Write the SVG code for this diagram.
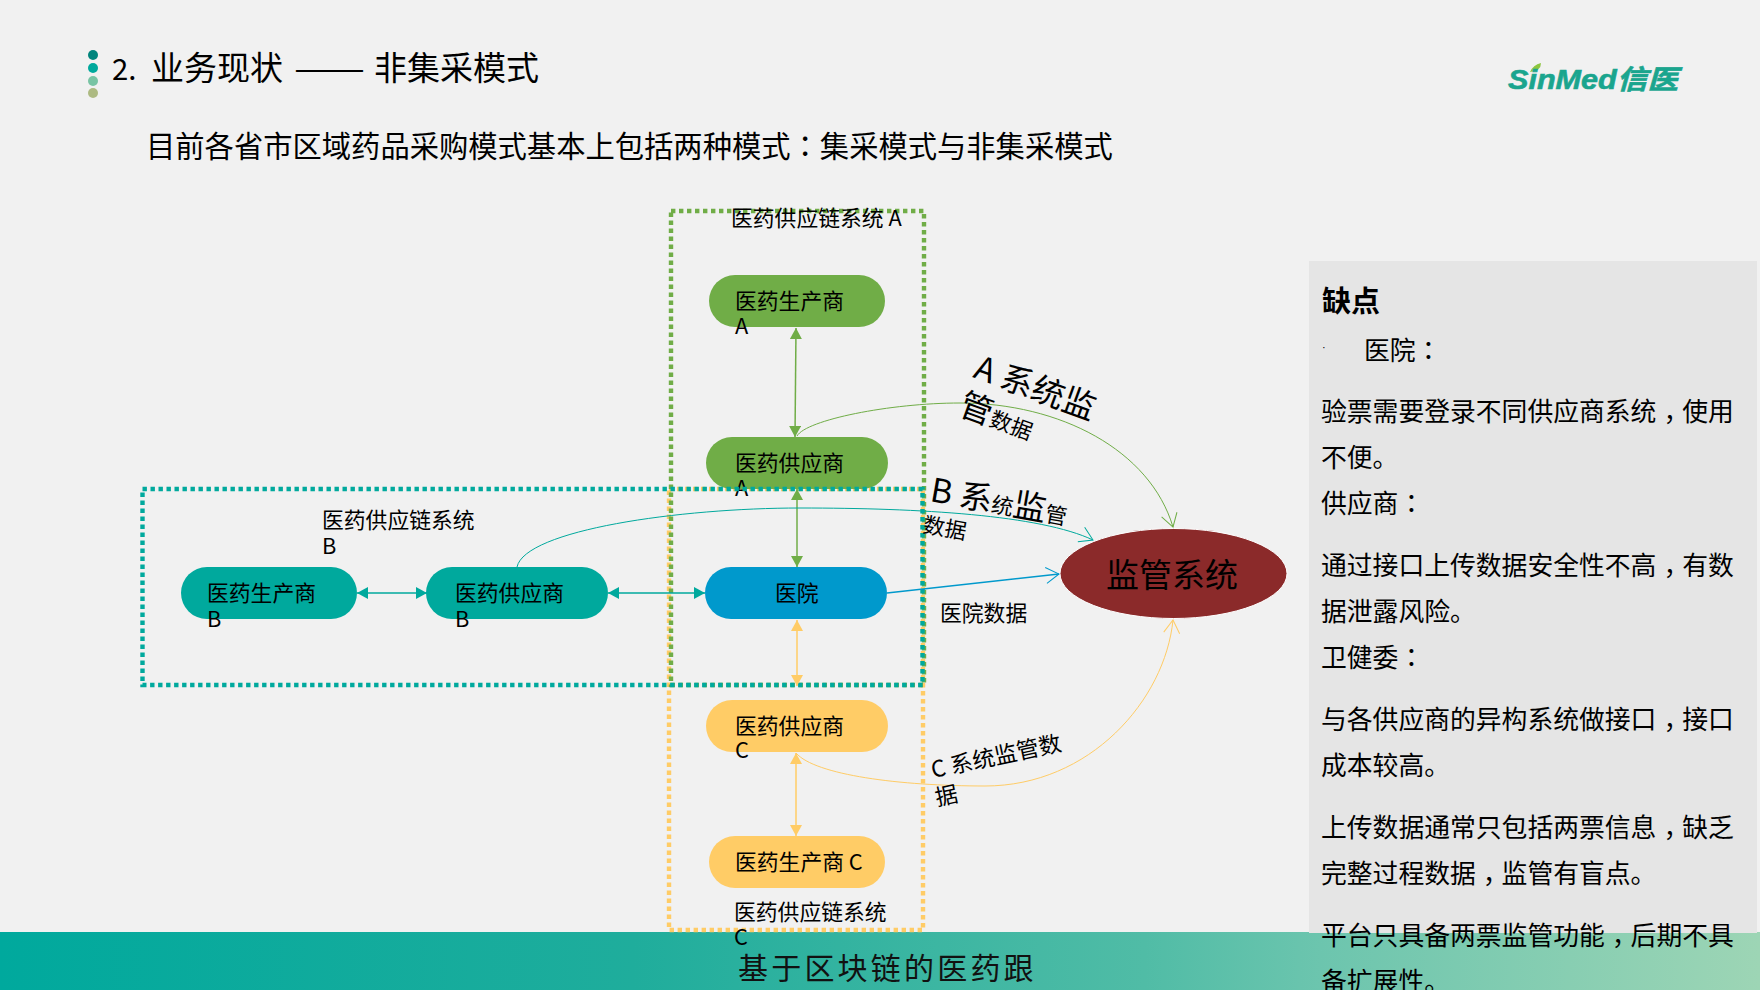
<svg xmlns="http://www.w3.org/2000/svg" width="1760" height="990" viewBox="0 0 1760 990">
<style>
text{font-family:"Noto Sans CJK SC","Noto Sans",sans-serif;fill:#000}
.t{font-size:21.8px}
.b{font-size:25.8px}
.big{font-size:33px}
.box{fill:none;stroke-width:4.4;stroke-dasharray:4.4 3.6}
.c{fill:none}
.g{stroke:#70ad47}.tl{stroke:#00a99d}.y{stroke:#ffcc66}.bl{stroke:#0099cc}
.tc{font-family:"Noto Sans CJK TC",sans-serif}
</style>
<defs>
<linearGradient id="band" x1="0" x2="1" y1="0" y2="0"><stop offset="0" stop-color="#00a99d"/><stop offset=".36" stop-color="#1fad9c"/><stop offset=".65" stop-color="#50bca6"/><stop offset=".75" stop-color="#6cc5ae"/><stop offset="1" stop-color="#9dd5b5"/></linearGradient>
<marker id="ag" markerUnits="userSpaceOnUse" markerWidth="12" markerHeight="12" refX="11" refY="6" orient="auto-start-reverse"><path d="M0,0L11,6L0,12Z" fill="#70ad47"/></marker>
<marker id="at" markerUnits="userSpaceOnUse" markerWidth="12" markerHeight="12" refX="11" refY="6" orient="auto-start-reverse"><path d="M0,0L11,6L0,12Z" fill="#00a99d"/></marker>
<marker id="ay" markerUnits="userSpaceOnUse" markerWidth="12" markerHeight="12" refX="11" refY="6" orient="auto-start-reverse"><path d="M0,0L11,6L0,12Z" fill="#ffcc66"/></marker>
<marker id="og" markerUnits="userSpaceOnUse" markerWidth="16" markerHeight="18" refX="14" refY="9" orient="auto"><path d="M1,1L14,9L1,17" fill="none" stroke="#70ad47"/></marker>
<marker id="ot" markerUnits="userSpaceOnUse" markerWidth="16" markerHeight="18" refX="14" refY="9" orient="auto"><path d="M1,1L14,9L1,17" fill="none" stroke="#00a99d"/></marker>
<marker id="oy" markerUnits="userSpaceOnUse" markerWidth="16" markerHeight="18" refX="14" refY="9" orient="auto"><path d="M1,1L14,9L1,17" fill="none" stroke="#ffcc66"/></marker>
<marker id="ob" markerUnits="userSpaceOnUse" markerWidth="16" markerHeight="18" refX="14" refY="9" orient="auto"><path d="M1,1L14,9L1,17" fill="none" stroke="#0099cc"/></marker>
</defs>
<rect width="1760" height="990" fill="#f1f1f1"/>
<rect y="932" width="1760" height="58" fill="url(#band)"/>
<rect x="1309" y="261" width="448" height="672" fill="#e5e5e5"/>

<g id="header">
<circle cx="93" cy="55" r="5" fill="#00847c"/><circle cx="93" cy="68" r="5" fill="#00a99d"/><circle cx="93" cy="81" r="5" fill="#78c4a4"/><circle cx="93" cy="93" r="5" fill="#adba82"/>
<text x="112" y="80" font-size="29.3">2.</text>
<text x="151" y="80" font-size="33">业务现状</text>
<text x="294" y="80" font-size="33" textLength="71" lengthAdjust="spacingAndGlyphs">——</text>
<text x="374" y="80" font-size="33">非集采模式</text>
<text x="146" y="157" font-size="29.3">目前各省市区域药品采购模式基本上包括两种模式<tspan class="tc">：</tspan>集采模式与非集采模式</text>
</g>
<g id="logo">
<path d="M1530,72Q1533,65 1541,63Q1541,71 1530,72Z" fill="#8dc63f"/>
<text x="1508" y="89" font-size="27" font-weight="700" font-style="italic" stroke="#1aa58e" stroke-width=".6" style="fill:#1aa58e;font-family:'Liberation Sans','Noto Sans CJK SC',sans-serif" textLength="170" lengthAdjust="spacingAndGlyphs">SinMed信医</text>
</g>

<g id="group-c"><rect class="box y" x="669" y="489" width="254" height="441"/></g>
<g id="group-a"><rect class="box g" x="671" y="211" width="253" height="474"/></g>

<g id="node-prod-a"><rect x="709" y="275" width="176" height="52" rx="26" fill="#70ad47"/><text class="t" x="735" y="309">医药生产商</text><text class="t" x="735" y="334">A</text></g>
<g id="node-sup-a"><rect x="706" y="437" width="182" height="52" rx="26" fill="#70ad47"/><text class="t" x="735" y="471">医药供应商</text><text class="t" x="735" y="496">A</text></g>
<g id="node-prod-b"><rect x="181" y="567" width="176" height="52" rx="26" fill="#00a99d"/><text class="t" x="207" y="601">医药生产商</text><text class="t" x="207" y="627">B</text></g>
<g id="node-sup-b"><rect x="426" y="567" width="182" height="52" rx="26" fill="#00a99d"/><text class="t" x="455" y="601">医药供应商</text><text class="t" x="455" y="627">B</text></g>
<g id="node-hospital"><rect x="705" y="567" width="182" height="52" rx="26" fill="#0099cc"/><text class="t" x="775" y="601">医院</text></g>
<g id="node-sup-c"><rect x="706" y="700" width="182" height="52" rx="26" fill="#ffcc66"/><text class="t" x="735" y="734">医药供应商</text><text class="t" x="735" y="758">C</text></g>
<g id="node-prod-c"><rect x="709" y="836" width="176" height="52" rx="26" fill="#ffcc66"/><text class="t" x="735" y="870">医药生产商 C</text></g>
<g id="node-monitor"><ellipse cx="1173.5" cy="573.5" rx="113.500" ry="45" fill="#8b2a2a" stroke="#fff" stroke-width="1"/><text x="1106" y="587" font-size="33">监管系统</text></g>

<g id="group-b"><rect class="box tl" x="142.500" y="489" width="780" height="196"/></g>

<g id="connectors">
<path class="c g" stroke-width="1.500" d="M796,328L795,437" marker-start="url(#ag)" marker-end="url(#ag)"/>
<path class="c g" stroke-width="1.500" d="M797,489V567" marker-start="url(#ag)" marker-end="url(#ag)"/>
<path class="c tl" stroke-width="1.500" d="M357,593H427" marker-start="url(#at)" marker-end="url(#at)"/>
<path class="c tl" stroke-width="1.500" d="M608,593H705" marker-start="url(#at)" marker-end="url(#at)"/>
<path class="c y" stroke-width="1.500" d="M797,620V686" marker-start="url(#ay)" marker-end="url(#ay)"/>
<path class="c y" stroke-width="1.500" d="M796,753V836" marker-start="url(#ay)" marker-end="url(#ay)"/>
<path class="c g" stroke-width="1" d="M797,436C806,420 890,403 960,403C1060,403 1150,450 1173,527" marker-end="url(#og)"/>
<path class="c tl" stroke-width="1" d="M517,567C525,530 680,508 800,508C920,508 1040,515 1093,540" marker-end="url(#ot)"/>
<path class="c bl" stroke-width="1.500" d="M887,593L1059,574" marker-end="url(#ob)"/>
<path class="c y" stroke-width="1" d="M796,753C815,775 900,786 985,786C1090,786 1165,700 1173,620" marker-end="url(#oy)"/>
</g>

<g id="labels">
<text class="t" x="731" y="226">医药供应链系统 A</text>
<text class="t" x="322" y="528">医药供应链系统</text><text class="t" x="322" y="554">B</text>
<text class="t" x="734" y="920">医药供应链系统</text><text class="t" x="734" y="945">C</text>
<text class="t" x="940" y="621">医院数据</text>
<text class="big" transform="translate(972,377) rotate(20)">A 系统监</text>
<text class="big" transform="translate(957,414) rotate(20)">管<tspan class="t">数据</tspan></text>
<text class="big" transform="translate(929,501) rotate(10)">B 系<tspan class="t">统</tspan>监<tspan class="t">管</tspan></text>
<text class="t" transform="translate(922,532) rotate(10)">数据</text>
<text class="t" transform="translate(933,778) rotate(-12)" style="font-size:22.6px">C 系统监管数</text>
<text class="t" transform="translate(937,806) rotate(-12)" style="font-size:22.6px">据</text>
</g>

<g id="footer"><text x="738" y="979" font-size="30" letter-spacing="3.200" style="fill:#111">基于区块链的医药跟</text></g>

<g id="panel">
<text x="1322" y="312" font-size="29" font-weight="700">缺点</text>
<text x="1322" y="351" style="font-size:11px;font-family:'Liberation Sans',sans-serif">·</text>
<text class="b" x="1364" y="360">医院<tspan class="tc">：</tspan></text>
<text class="b" x="1321" y="421">验票需要登录不同供应商系统<tspan dx="7">，</tspan><tspan dx="-7">使用</tspan></text>
<text class="b" x="1321" y="467">不便。</text>
<text class="b" x="1321" y="513">供应商<tspan class="tc">：</tspan></text>
<text class="b" x="1321" y="575">通过接口上传数据安全性不高<tspan dx="7">，</tspan><tspan dx="-7">有数</tspan></text>
<text class="b" x="1321" y="621">据泄露风险。</text>
<text class="b" x="1321" y="667">卫健委<tspan class="tc">：</tspan></text>
<text class="b" x="1321" y="729">与各供应商的异构系统做接口<tspan dx="7">，</tspan><tspan dx="-7">接口</tspan></text>
<text class="b" x="1321" y="775">成本较高。</text>
<text class="b" x="1321" y="837">上传数据通常只包括两票信息<tspan dx="7">，</tspan><tspan dx="-7">缺乏</tspan></text>
<text class="b" x="1321" y="883">完整过程数据<tspan dx="7">，</tspan><tspan dx="-7">监管有盲点。</tspan></text>
<text class="b" x="1321" y="945">平台只具备两票监管功能<tspan dx="7">，</tspan><tspan dx="-7">后期不具</tspan></text>
<text class="b" x="1321" y="991">备扩展性。</text>
</g>
</svg>
